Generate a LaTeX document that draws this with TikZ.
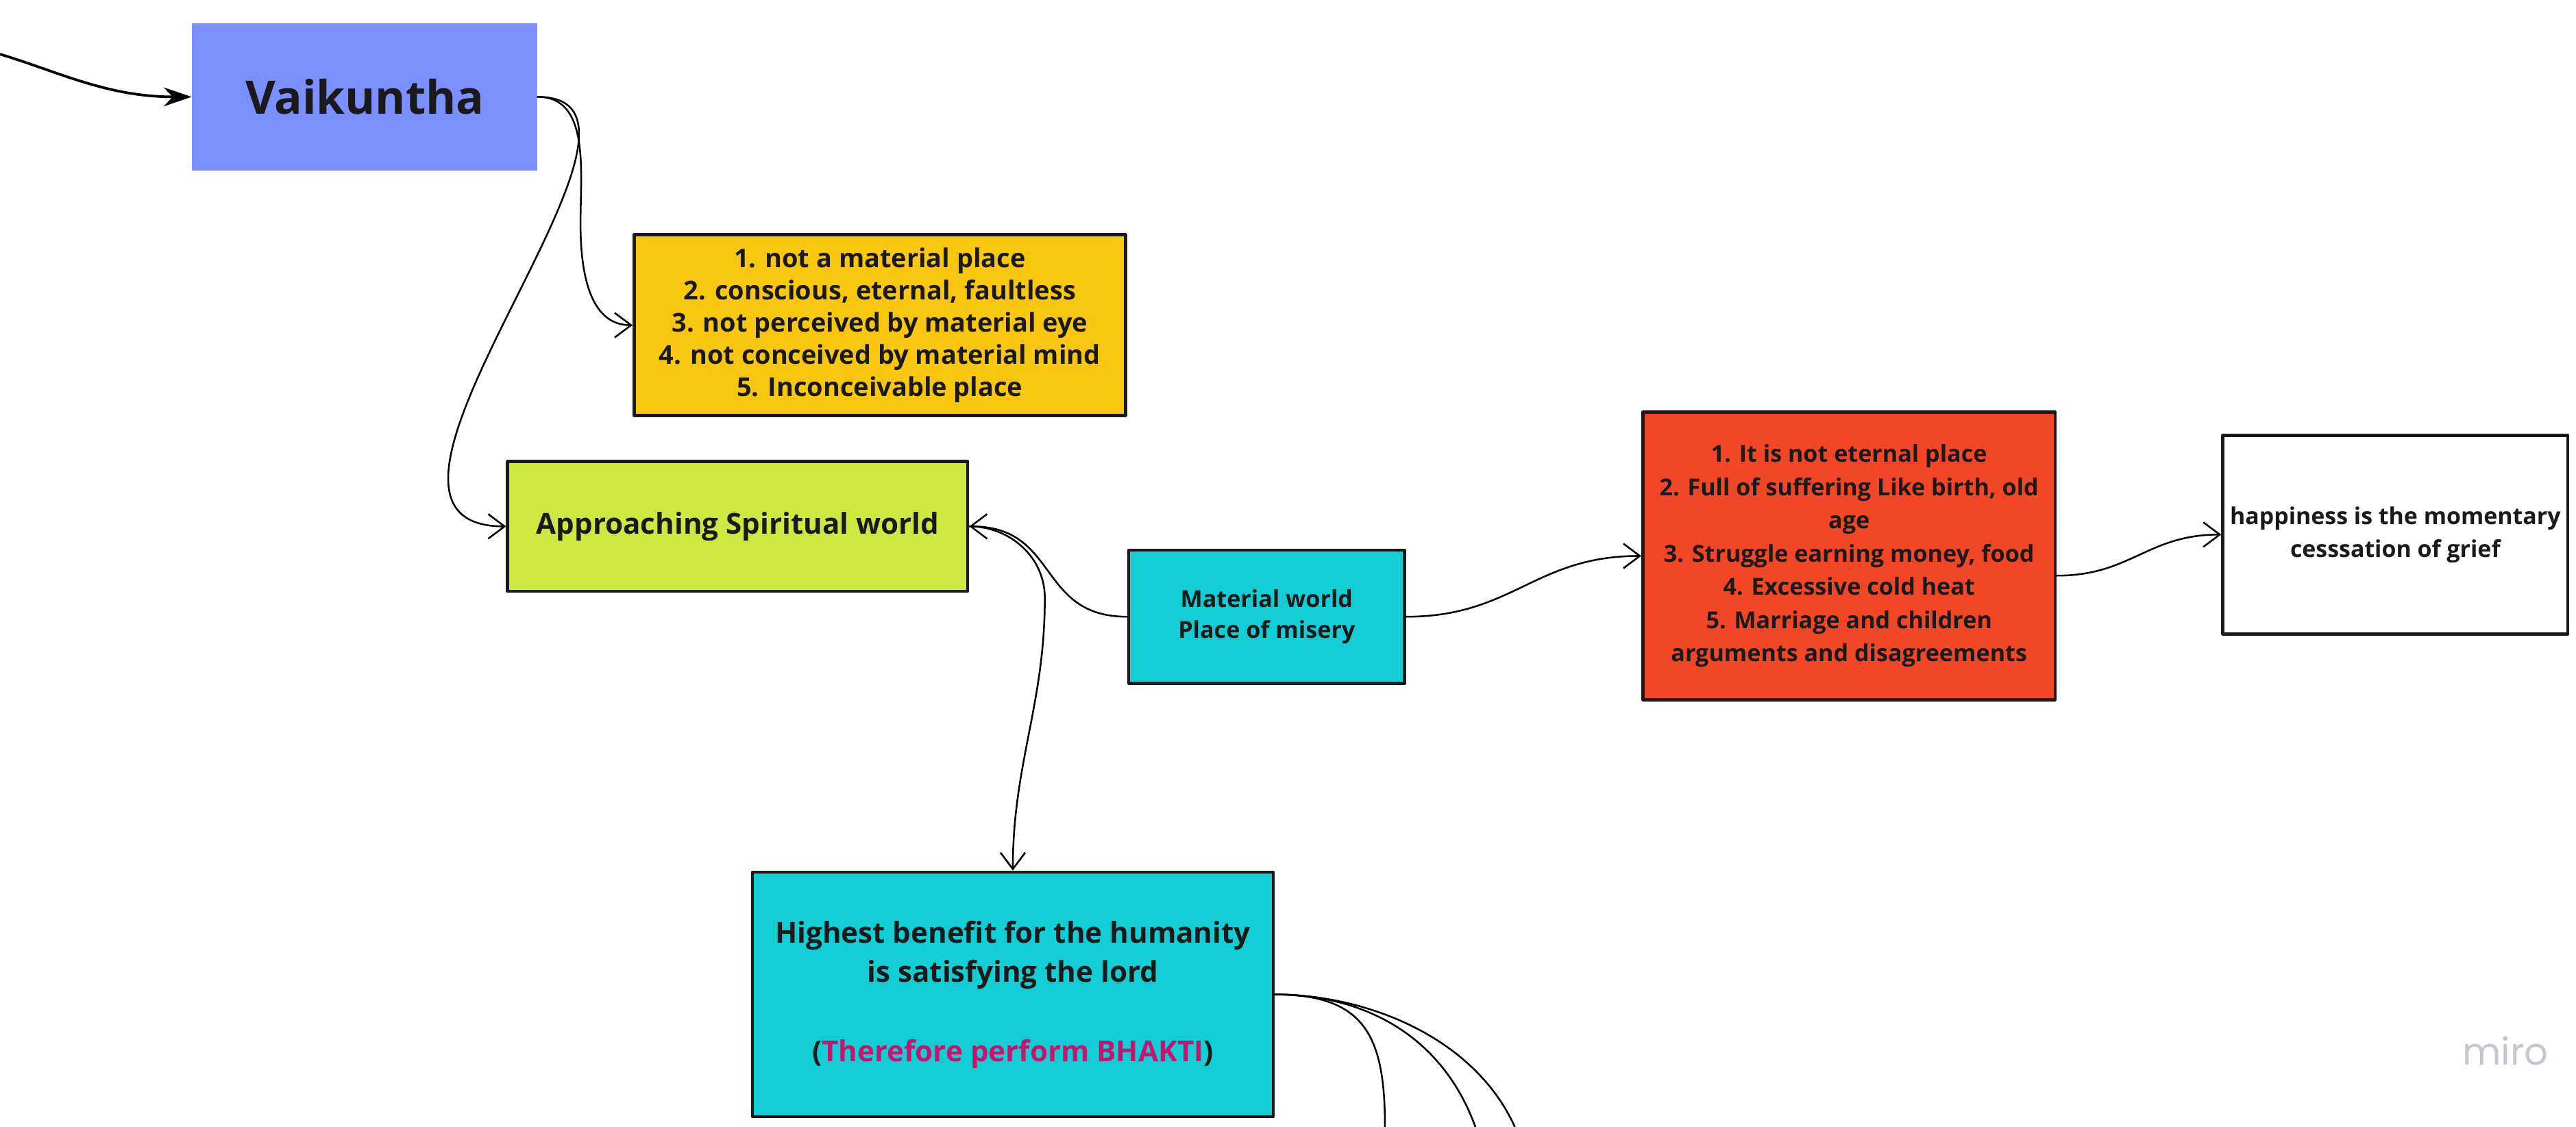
\documentclass[tikz,border=0pt]{standalone}
\usepackage{fontspec}
\setmainfont{Open Sans}
\newfontfamily\logofont{Poppins}
\usetikzlibrary{arrows.meta}
\definecolor{ink}{HTML}{1A1A1A}
\definecolor{vaiblue}{HTML}{7B8FFF}
\definecolor{gold}{HTML}{FAC710}
\definecolor{lime}{HTML}{CEE741}
\definecolor{aqua}{HTML}{12CDD4}
\definecolor{flame}{HTML}{F24726}
\definecolor{bhakti}{HTML}{C41570}
\definecolor{wmgray}{HTML}{C6C6D0}
\begin{document}
\begin{tikzpicture}[>={Straight Barb[length=2mm,width=3mm]},line join=round,line cap=round,
    card/.style={draw=ink,line width=1.1pt,align=center,inner sep=0pt,text=ink,font=\bfseries},
    link/.style={->,line width=0.6pt}]
    \useasboundingbox (0,0) rectangle (31.36,13.72);
    \node[fill=vaiblue,inner sep=0pt,minimum width=4.2cm,minimum height=1.8cm,text=ink,font=\bfseries\fontsize{16}{19}\selectfont] (vai) at (4.44,12.54) {Vaikuntha};
    \node[card,fill=gold,minimum width=5.98cm,minimum height=2.2cm,font=\bfseries\fontsize{9}{11.2}\selectfont] (yel) at (10.71,9.76)
        {1. not a material place\\2. conscious, eternal, faultless\\3. not perceived by material eye\\4. not conceived by material mind\\5. Inconceivable place};
    \node[card,fill=lime,minimum width=5.6cm,minimum height=1.58cm,font=\bfseries\fontsize{10}{13.7}\selectfont] (asw) at (8.98,7.31) {Approaching Spiritual world};
    \node[card,fill=aqua,minimum width=3.36cm,minimum height=1.62cm,font=\bfseries\fontsize{8.1}{10.8}\selectfont] (mat) at (15.42,6.21) {Material world\\Place of misery};
    \node[card,fill=flame,minimum width=5.02cm,minimum height=3.5cm,font=\bfseries\fontsize{8.1}{11.5}\selectfont] (red) at (22.51,6.95)
        {1. It is not eternal place\\2. Full of suffering Like birth, old\\age\\3. Struggle earning money, food\\4. Excessive cold heat\\5. Marriage and children\\arguments and disagreements};
    \node[card,fill=white,minimum width=4.2cm,minimum height=2.42cm,font=\bfseries\fontsize{8.05}{11.4}\selectfont] (hap) at (29.16,7.21) {happiness is the momentary\\cesssation of grief};
    \node[card,fill=aqua,minimum width=6.34cm,minimum height=2.98cm,font=\bfseries\fontsize{10}{13.7}\selectfont] (hib) at (12.33,1.61)
        {Highest benefit for the humanity\\is satisfying the lord\\[13.7pt](\textcolor{bhakti}{Therefore perform BHAKTI})};
    \node[text=wmgray,font=\logofont\fontsize{13}{13}\selectfont] (wm) at (30.5,0.92) {miro};
    \coordinate (src) at (0,13.06);
    \coordinate (e1) at (16.86,0);
    \coordinate (e2) at (17.96,0);
    \coordinate (e3) at (18.44,0);
    \draw[-{Stealth[length=3.4mm,width=2.3mm]},line width=0.9pt] (src) .. controls (0.7,12.85) and (1.3,12.54) .. (vai.west);
    \draw[link] (vai.east) to[out=0,in=90] ++(0.52,-1.54) to[out=-90,in=180] (yel.west);
    \draw[link] (vai.east) .. controls +(2.0,0) and +(-2.4,0) .. (asw.west);
    \draw[link] (mat.west) .. controls +(-1.1,0) and +(1.1,0) .. (asw.east);
    \draw[link] (asw.east) to[out=0,in=90] ++(0.92,-0.87) to[out=-90,in=90] (hib.north);
    \draw[link] (mat.east) .. controls +(1.3,0) and +(-1.3,0) .. (red.west);
    \draw[link] ([yshift=-0.24cm]red.east) .. controls +(0.9,0) and +(-0.9,0) .. (hap.west);
    \foreach \e/\b in {e1/0,e2/-0.4,e3/-0.5}
    \draw[line width=0.6pt] (hib.east) .. controls +(1.1,0) and +(\b,1.1) .. (\e);
\end{tikzpicture}
\end{document}
